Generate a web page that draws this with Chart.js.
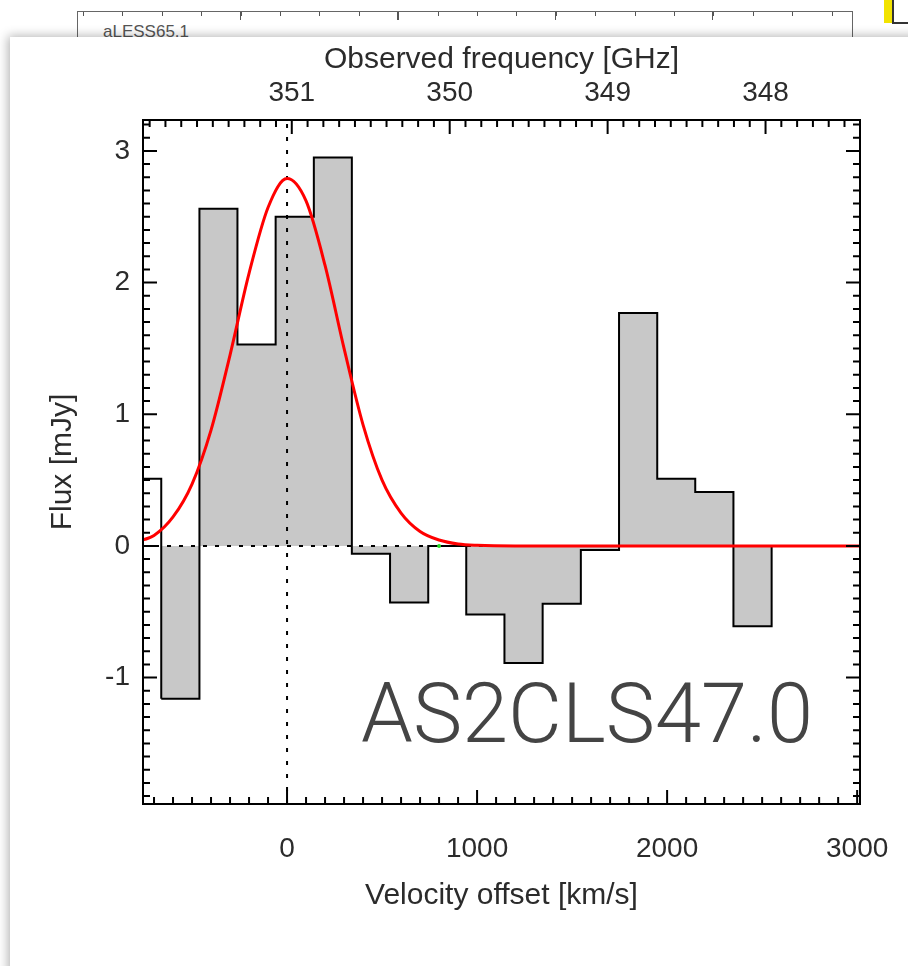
<!DOCTYPE html>
<html lang="en">
<head>
    <meta charset="UTF-8">
    <title>AS2CLS47.0 spectrum</title>
    <script src="https://cdn.jsdelivr.net/npm/chart.js@4.4.0/dist/chart.umd.min.js"></script>
    <style>
        html, body {
            margin: 0;
            padding: 0;
        }
        body {
            width: 908px;
            height: 966px;
            position: relative;
            overflow: hidden;
            background: #fff;
            font-family: "Liberation Sans", Arial, sans-serif;
        }
        /* the panel peeking out behind the card */
        .prev-panel {
            position: absolute;
            left: 77px;
            top: 11px;
            width: 774px;
            height: 60px;
            border: 1px solid #666;
            background-image:
                repeating-linear-gradient(to right, #555 0 1px, transparent 1px 157.5px),
                repeating-linear-gradient(to right, #555 0 1px, transparent 1px 39.4px);
            background-size: 100% 8px, 100% 4px;
            background-position: 162px 0, 5px 0;
            background-repeat: no-repeat;
        }
        .prev-label {
            position: absolute;
            left: 103px;
            top: 22px;
            font-size: 17px;
            color: #555;
        }
        .marker {
            position: absolute;
            left: 884px;
            top: 0;
            width: 8px;
            height: 23px;
            background: #f2e300;
            border-right: 2px solid #333;
        }
        .marker-foot {
            position: absolute;
            left: 892px;
            top: 22px;
            width: 16px;
            height: 2px;
            background: #333;
        }
        .card {
            position: absolute;
            left: 10px;
            top: 37px;
            width: 910px;
            height: 940px;
            background: #fff;
            box-shadow: -2px -1px 10px rgba(0,0,0,0.3);
        }
        #chartBox {
            position: absolute;
            left: 0;
            top: 0;
        }
    </style>
</head>
<body>
    <div class="prev-panel"></div>
    <div class="prev-label">aLESS65.1</div>
    <div class="marker"></div>
    <div class="marker-foot"></div>
    <div class="card"></div>
    <canvas id="chartBox" width="908" height="966"></canvas>

    <script>
        // channel edges (km/s) and flux per channel (mJy)
        const binEdges = [-863, -662, -461, -261, -60, 141, 341, 542, 743, 943, 1144, 1345, 1546, 1747, 1948, 2148, 2349, 2550];
        const fluxValues = [0.51, -1.16, 2.56, 1.53, 2.50, 2.95, -0.06, -0.43, 0.00, -0.52, -0.89, -0.44, -0.03, 1.77, 0.51, 0.41, -0.61];

        // gaussian fit
        const fitVelocity = [-800, -700, -600, -500, -400, -300, -200, -100, 0, 100, 200, 300, 400, 500, 600, 700, 800, 900, 1000, 1200, 1600, 2000, 2500, 3100];
        const fitFlux = [0.03, 0.08, 0.22, 0.47, 0.88, 1.45, 2.07, 2.57, 2.79, 2.62, 2.13, 1.50, 0.92, 0.50, 0.25, 0.11, 0.045, 0.015, 0.005, 0, 0, 0, 0, 0];

        const markerVelocity = [800];
        const markerFlux = [0];

        const velocityTicks = [0, 1000, 2000, 3000];
        const fluxTicks = [-1, 0, 1, 2, 3];
        const freqTicks = [351, 350, 349, 348];

        const xMin = -758, xMax = 3015;
        const yMin = -1.96, yMax = 3.235;
        const sourceName = 'AS2CLS47.0';

        // top axis: observed frequency -> velocity offset
        const freqRef = 351.03, kmsPerGHz = 831;
        const freqToVel = f => (freqRef - f) * kmsPerGHz;

        const histPoints = fluxValues.map((v, i) => ({x: binEdges[i], y: v}));
        histPoints.push({x: binEdges[binEdges.length - 1], y: 0});

        const fitPoints = fitVelocity.map((v, i) => ({x: v, y: fitFlux[i]}));
        const markerPoints = markerVelocity.map((v, i) => ({x: v, y: markerFlux[i]}));

        const fontFamily = '"Liberation Sans", Arial, Helvetica, sans-serif';
        const textColor = '#2b2b2b';
        const histFill = '#c8c8c8';

        // IDL-style frame with inward ticks on all four sides
        const frameTicks = {
            id: 'frameTicks',
            afterDatasetsDraw(chart) {
                const {ctx, chartArea: a, scales} = chart;
                const x = scales.x, y = scales.y;
                ctx.save();
                ctx.strokeStyle = '#000';
                ctx.lineWidth = 2;
                ctx.beginPath();
                for (let k = -7; k <= 30; k++) {
                    const px = x.getPixelForValue(k * 100);
                    const len = k % 10 === 0 ? 14 : 7;
                    ctx.moveTo(px, a.bottom);
                    ctx.lineTo(px, a.bottom - len);
                }
                for (let k = 3519; k >= 3474; k--) {
                    const px = x.getPixelForValue(freqToVel(k / 10));
                    if (px < a.left || px > a.right) continue;
                    const len = k % 10 === 0 ? 14 : 7;
                    ctx.moveTo(px, a.top);
                    ctx.lineTo(px, a.top + len);
                }
                for (let k = -19; k <= 32; k++) {
                    const py = y.getPixelForValue(k / 10);
                    const len = k % 10 === 0 ? 14 : 7;
                    ctx.moveTo(a.left, py);
                    ctx.lineTo(a.left + len, py);
                    ctx.moveTo(a.right, py);
                    ctx.lineTo(a.right - len, py);
                }
                ctx.stroke();
                ctx.strokeRect(a.left, a.top, a.right - a.left, a.bottom - a.top);

                ctx.fillStyle = '#444';
                ctx.font = '300 83px Roboto';
                ctx.textBaseline = 'alphabetic';
                ctx.fillText(sourceName, a.left + 218, a.top + 622);
                ctx.restore();
            }
        };

        // keep the frame edges where the picture has them
        const noLabelPadding = s => {
            s.paddingLeft = 0;
            s.paddingRight = 0;
        };

        new Chart(document.getElementById('chartBox').getContext('2d'), {
            type: 'line',
            data: {
                datasets: [
                    {
                        label: 'marker',
                        data: markerPoints,
                        showLine: false,
                        pointRadius: 2,
                        pointBackgroundColor: '#22dd22',
                        pointBorderWidth: 0,
                        order: -1
                    },
                    {
                        label: 'Gaussian fit',
                        data: fitPoints,
                        borderColor: '#ff0000',
                        borderWidth: 3,
                        pointRadius: 0,
                        cubicInterpolationMode: 'monotone',
                        fill: false,
                        order: 0
                    },
                    {
                        label: 'zero',
                        data: [{x: xMin, y: 0}, {x: xMax, y: 0}],
                        borderColor: '#000',
                        borderWidth: 2,
                        borderDash: [4, 8],
                        pointRadius: 0,
                        fill: false,
                        order: 1
                    },
                    {
                        label: 'systemic',
                        data: [{x: 0, y: yMin}, {x: 0, y: yMax}],
                        borderColor: '#000',
                        borderWidth: 2,
                        borderDash: [4, 9],
                        pointRadius: 0,
                        fill: false,
                        order: 1
                    },
                    {
                        label: 'Flux',
                        data: histPoints,
                        stepped: 'before',
                        borderColor: '#000',
                        borderWidth: 2,
                        backgroundColor: histFill,
                        fill: 'origin',
                        pointRadius: 0,
                        segment: {
                            backgroundColor: c => c.p0DataIndex === 0 ? 'rgba(0,0,0,0)' : histFill
                        },
                        order: 2
                    }
                ]
            },
            options: {
                responsive: false,
                animation: false,
                layout: {
                    padding: {left: 0, right: 48, top: 0, bottom: 0}
                },
                plugins: {
                    legend: {display: false},
                    tooltip: {enabled: false}
                },
                scales: {
                    x: {
                        type: 'linear',
                        position: 'bottom',
                        min: xMin,
                        max: xMax,
                        afterBuildTicks: s => { s.ticks = velocityTicks.map(v => ({value: v})); },
                        afterFit: s => { s.height = 162; noLabelPadding(s); },
                        grid: {display: false, drawTicks: false},
                        border: {display: false},
                        ticks: {
                            padding: 28,
                            maxRotation: 0,
                            autoSkip: false,
                            color: textColor,
                            font: {family: fontFamily, size: 28},
                            callback: v => String(v)
                        },
                        title: {
                            display: true,
                            text: 'Velocity offset [km/s]',
                            color: textColor,
                            font: {family: fontFamily, size: 30},
                            padding: {top: 0, bottom: 52}
                        }
                    },
                    x2: {
                        type: 'linear',
                        position: 'top',
                        min: xMin,
                        max: xMax,
                        afterBuildTicks: s => { s.ticks = freqTicks.map(f => ({value: freqToVel(f)})); },
                        afterFit: s => { s.height = 120; noLabelPadding(s); },
                        grid: {display: false, drawTicks: false},
                        border: {display: false},
                        ticks: {
                            padding: 10,
                            maxRotation: 0,
                            autoSkip: false,
                            color: textColor,
                            font: {family: fontFamily, size: 28},
                            callback: (v, i) => String(freqTicks[i])
                        },
                        title: {
                            display: true,
                            text: 'Observed frequency [GHz]',
                            color: textColor,
                            font: {family: fontFamily, size: 30},
                            padding: {top: 42, bottom: 0}
                        }
                    },
                    y: {
                        type: 'linear',
                        min: yMin,
                        max: yMax,
                        afterBuildTicks: s => { s.ticks = fluxTicks.map(v => ({value: v})); },
                        afterFit: s => { s.width = 143; },
                        grid: {display: false, drawTicks: false},
                        border: {display: false},
                        ticks: {
                            padding: 13,
                            color: textColor,
                            font: {family: fontFamily, size: 28},
                            callback: v => String(v)
                        },
                        title: {
                            display: true,
                            text: 'Flux [mJy]',
                            color: textColor,
                            font: {family: fontFamily, size: 30},
                            padding: {top: 45, bottom: 0}
                        }
                    }
                }
            },
            plugins: [frameTicks]
        });
    </script>
</body>
</html>
